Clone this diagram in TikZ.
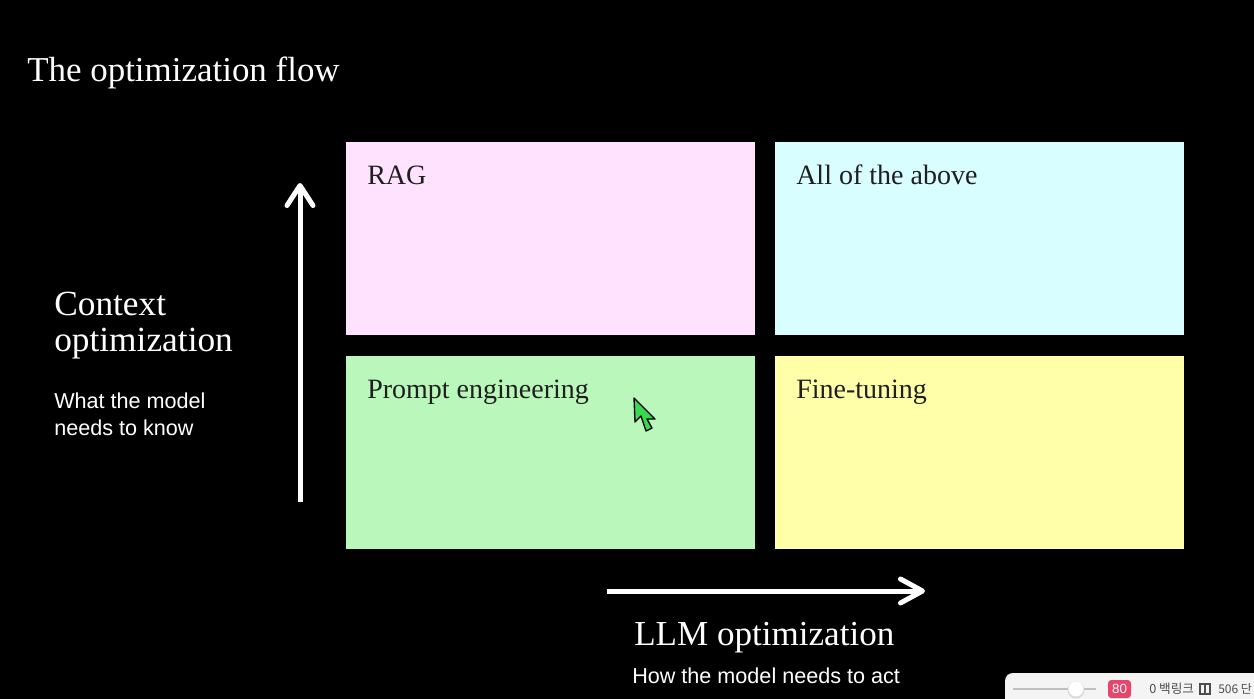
\documentclass[tikz,border=0pt]{standalone}
\usepackage{fontspec}
\setmainfont{Liberation Serif}
\newfontfamily\sansf{Liberation Sans}
\newfontfamily\krf{Noto Sans CJK KR}
\usetikzlibrary{arrows.meta}
\definecolor{ragc}{HTML}{FFE2FE}
\definecolor{allc}{HTML}{D9FEFF}
\definecolor{promptc}{HTML}{BAF7BA}
\definecolor{finec}{HTML}{FFFFAA}
\definecolor{lblc}{HTML}{1F1F1F}
\definecolor{cursorc}{HTML}{3AD84E}
\definecolor{badgec}{HTML}{E8456B}
\definecolor{panelc}{HTML}{F4F4F4}
\begin{document}
\begin{tikzpicture}[x=0.75pt,y=-0.75pt,
  quad/.style={draw=none, minimum width=306.75pt, minimum height=144.75pt, inner sep=0pt, anchor=north west},
  boxlbl/.style={anchor=base west, inner sep=0pt, text=lblc, font=\fontsize{21}{25}\selectfont},
  headtxt/.style={anchor=base west, inner sep=0pt, text=white},
  subtxt/.style={anchor=base west, inner sep=0pt, text=white, font=\sansf\fontsize{16.2}{19}\selectfont},
  bigarrow/.style={draw=white, line width=3.75pt}
]
\useasboundingbox[fill=black] (0,0) rectangle (1254,699);

% title
\node[headtxt, font=\fontsize{26.2}{31}\selectfont] (title) at (27,82) {The optimization flow};

% quadrants
\node[quad, fill=ragc] (rag) at (346,142) {};
\node[quad, fill=allc] (all) at (775,142) {};
\node[quad, fill=promptc] (prompt) at (346,356) {};
\node[quad, fill=finec] (fine) at (775,356) {};

\node[boxlbl] (raglbl) at ([shift={(21,43)}]rag.north west) {RAG};
\node[boxlbl] (alllbl) at ([shift={(21,43)}]all.north west) {All of the above};
\node[boxlbl] (promptlbl) at ([shift={(21,42)}]prompt.north west) {Prompt engineering};
\node[boxlbl] (finelbl) at ([shift={(21,42)}]fine.north west) {Fine-tuning};

% axis arrows
\coordinate (va0) at (300,502);
\coordinate (va1) at (300,183);
\draw[bigarrow, -{Straight Barb[length=15pt,width=19.5pt,round]}] (va0) -- (va1);
\coordinate (ha0) at (607,591);
\coordinate (ha1) at (925,591);
\draw[bigarrow, -{Straight Barb[length=16.5pt,width=18pt,round]}] (ha0) -- (ha1);

% axis labels
\node[headtxt, font=\fontsize{26.5}{31}\selectfont] (ctx1) at (54,315) {Context};
\node[headtxt, font=\fontsize{26.5}{31}\selectfont] (ctx2) at (54,351) {optimization};
\node[subtxt] (know1) at (54,408) {What the model};
\node[subtxt] (know2) at (54,435) {needs to know};
\node[headtxt, font=\fontsize{26.3}{31}\selectfont] (llm) at (634,645) {LLM optimization};
\node[subtxt] (act) at (632,683) {How the model needs to act};

% mouse cursor
\draw[fill=cursorc, draw=black, line width=1pt, line join=round]
  (634,398) -- (635,422) -- (641,416) -- (646,431) -- (652,428) -- (647,419) -- (655,419) -- cycle;

% bottom-right UI panel
\fill[panelc, rounded corners=6pt] (1005,673) rectangle (1270,715);
\draw[black!25, line width=1pt] (1013,689) -- (1096,689);
\fill[black!15] (1076,690) circle (8.5);
\fill[white] (1076,689) circle (7.5);
\fill[badgec, rounded corners=2.5pt] (1108,680) rectangle (1131,698);
\node[inner sep=0pt, text=white, font=\sansf\fontsize{10}{12}\selectfont] (badge) at (1119.5,689) {80};
\node[anchor=base west, inner sep=0pt, text=black!70, font=\krf\fontsize{9.5}{11}\selectfont] (links) at (1149,693) {0 백링크};
\draw[black!70, line width=0.8pt] (1200,684) rectangle (1205,694) (1205,684) rectangle (1210,694);
\node[anchor=base west, inner sep=0pt, text=black!70, font=\krf\fontsize{9}{11}\selectfont] (words) at (1218,693) {506 단};
\end{tikzpicture}
\end{document}
